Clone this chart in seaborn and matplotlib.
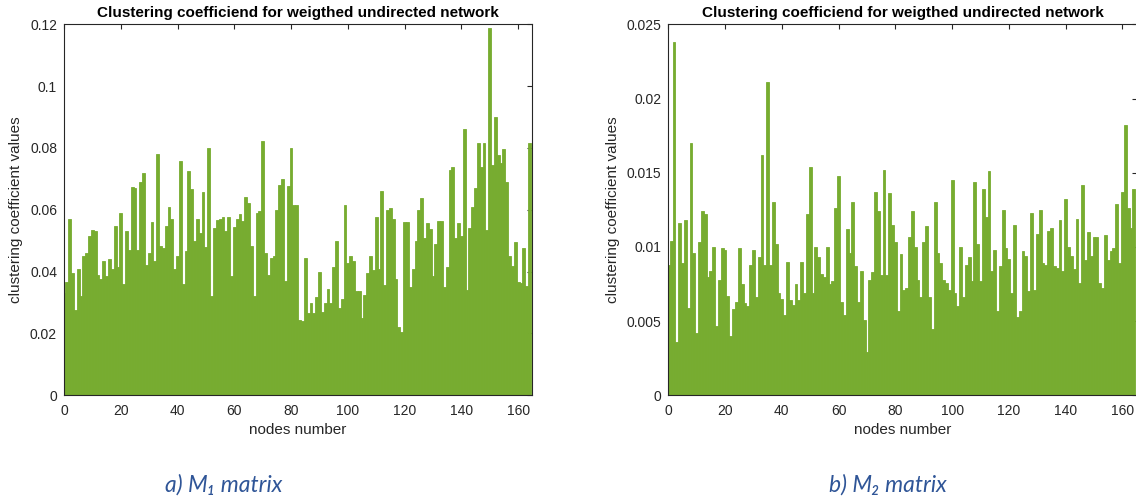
import numpy as np
import pandas as pd
import matplotlib
matplotlib.use("Agg")
import matplotlib.pyplot as plt
import seaborn as sns

# ---------------- data ----------------
m1_values = [
    0.033, 0.0366, 0.057, 0.0396, 0.0277, 0.041, 0.032, 0.045, 0.046, 0.0515,
    0.0536, 0.053, 0.039, 0.0376, 0.0434, 0.0387, 0.044, 0.041, 0.0547, 0.0415,
    0.059, 0.036, 0.053, 0.047, 0.0674, 0.067, 0.047, 0.069, 0.072, 0.042,
    0.046, 0.056, 0.0436, 0.078, 0.0484, 0.0477, 0.0547, 0.061, 0.057, 0.041,
    0.045, 0.0757, 0.036, 0.0466, 0.0725, 0.0668, 0.050, 0.057, 0.0525, 0.0657,
    0.048, 0.080, 0.032, 0.054, 0.0566, 0.057,
    0.0576, 0.0530, 0.0577, 0.0387, 0.0544, 0.0569, 0.0587, 0.0563, 0.0640, 0.0622,
    0.0484, 0.0320, 0.0590, 0.0595, 0.0822, 0.0460, 0.0390, 0.0444, 0.0452, 0.0599,
    0.0680, 0.0700, 0.0370, 0.0676, 0.0800, 0.0617, 0.0617, 0.0245, 0.0240, 0.0444,
    0.0266, 0.0300, 0.0266, 0.0317, 0.0398, 0.0270, 0.0297, 0.0344, 0.0297, 0.0414,
    0.0500, 0.0283, 0.0310, 0.0615, 0.0428, 0.0452, 0.0434, 0.0337, 0.0337, 0.0250,
    0.0326, 0.0396, 0.0452, 0.0405, 0.0577, 0.0407, 0.0660,
    0.0356, 0.0598, 0.0606, 0.0569, 0.0376, 0.022, 0.0205, 0.056, 0.056, 0.035,
    0.041, 0.050, 0.0598, 0.0639, 0.051, 0.0558, 0.0538, 0.0385, 0.049, 0.0565,
    0.0565, 0.035, 0.0414, 0.0728, 0.0739, 0.051, 0.0558, 0.0515, 0.0862, 0.0342,
    0.054, 0.061, 0.067, 0.0815, 0.074, 0.0817, 0.0536, 0.1189, 0.0744, 0.090,
    0.0777, 0.0752, 0.0797, 0.069, 0.0452, 0.0417, 0.0495, 0.0366, 0.0364, 0.0477,
    0.0353, 0.0817,
]

m2_values = [
    0.0088, 0.0104, 0.0238, 0.0036, 0.0116, 0.0089, 0.0118, 0.0059, 0.0170, 0.0096,
    0.0042, 0.0103, 0.0124, 0.0122, 0.0080, 0.0084, 0.0100, 0.0047, 0.0078, 0.0099,
    0.0098, 0.0067, 0.0040, 0.0058, 0.0063, 0.0099, 0.0075, 0.0062, 0.0060, 0.0088,
    0.0098, 0.0066, 0.0093, 0.0162, 0.0088, 0.0211, 0.0088, 0.0130, 0.0102, 0.0069,
    0.0065, 0.0054, 0.0090, 0.0064, 0.0061, 0.0075, 0.0064, 0.0090, 0.0069, 0.0122,
    0.0154, 0.0069, 0.0100, 0.0093, 0.0082, 0.0080, 0.0100,
    0.0075, 0.0077, 0.0126, 0.0148, 0.0063, 0.0054, 0.0112, 0.0096, 0.0130, 0.0087,
    0.0063, 0.0084, 0.0051, 0.0029, 0.0078, 0.0083, 0.0137, 0.0124, 0.0081, 0.0152,
    0.0081, 0.0136, 0.0115, 0.0103, 0.0057, 0.0095, 0.0071, 0.0072, 0.0107, 0.0124,
    0.0100, 0.0078, 0.0066, 0.0103, 0.0114, 0.0066, 0.0045, 0.0130, 0.0096, 0.0089,
    0.0078, 0.0076, 0.0071, 0.0145, 0.0069, 0.0060, 0.0100, 0.0066, 0.0088, 0.0093,
    0.0077, 0.0144, 0.0102, 0.0077, 0.0139,
    0.0120, 0.0151, 0.0084, 0.0098, 0.0057, 0.0087, 0.0125, 0.0099, 0.0092, 0.0069,
    0.0115, 0.0053, 0.0057, 0.0097, 0.0094, 0.0070, 0.0123, 0.0071, 0.0109, 0.0125,
    0.0089, 0.0088, 0.0111, 0.0113, 0.0087, 0.0086, 0.0118, 0.0084, 0.0132, 0.0100,
    0.0094, 0.0085, 0.0119, 0.0076, 0.0142, 0.0091, 0.0110, 0.0094, 0.0107, 0.0107,
    0.0076, 0.0072, 0.0108, 0.0091, 0.0097, 0.0099, 0.0129, 0.0089, 0.0137, 0.0182,
    0.0126, 0.0113, 0.0139,
]

x_ticks = [0, 20, 40, 60, 80, 100, 120, 140, 160]
m1_yticks = [0, 0.02, 0.04, 0.06, 0.08, 0.1, 0.12]
m1_yticklabels = ["0", "0.02", "0.04", "0.06", "0.08", "0.1", "0.12"]
m2_yticks = [0, 0.005, 0.01, 0.015, 0.02, 0.025]
m2_yticklabels = ["0", "0.005", "0.01", "0.015", "0.02", "0.025"]

title_text = "Clustering coefficiend for weigthed undirected network"
xlabel_text = "nodes number"
ylabel_text = "clustering coefficient values"
captions = ["a) M\u2081 matrix", "b) M\u2082 matrix"]

# ---------------- style ----------------
sns.set_theme(style="white")
plt.rcParams["font.family"] = ["Liberation Sans", "DejaVu Sans"]
axis_col = "#262626"
bar_col = "#77AC30"

fig = plt.figure(figsize=(11.36, 4.99), dpi=100)
W, H = 1136, 499
def pos(x0, x1, y_top, y_bot):
    return [x0 / W, 1 - y_bot / H, (x1 - x0) / W, (y_bot - y_top) / H]

ax1 = fig.add_axes(pos(64, 532.3, 24.3, 395.3))
ax2 = fig.add_axes(pos(668.3, 1136.6, 24.3, 395.3))

panels = [
    (ax1, m1_values, m1_yticks, m1_yticklabels, 0.12),
    (ax2, m2_values, m2_yticks, m2_yticklabels, 0.025),
]

for ax, vals, yt, ytl, ymax in panels:
    df = pd.DataFrame({"node": np.arange(len(vals)), "value": vals})
    sns.barplot(data=df, x="node", y="value", native_scale=True, ax=ax,
                color=bar_col, saturation=1, width=1.0,
                edgecolor=bar_col, linewidth=0.6, errorbar=None)
    ax.set_xlim(0, 165)
    ax.set_ylim(0, ymax)
    ax.set_xticks(x_ticks)
    ax.set_xticklabels([str(t) for t in x_ticks])
    ax.set_yticks(yt)
    ax.set_yticklabels(ytl)
    ax.tick_params(axis="both", direction="in", length=3.5, width=0.8,
                   color=axis_col, labelcolor=axis_col, labelsize=10,
                   top=True, right=True)
    ax.tick_params(axis="x", pad=6)
    ax.tick_params(axis="y", pad=5)
    for sp in ax.spines.values():
        sp.set_visible(True)
        sp.set_color(axis_col)
        sp.set_linewidth(0.8)
    ax.set_xlabel(xlabel_text, fontsize=11, color=axis_col, labelpad=4)
    ax.set_ylabel(ylabel_text, fontsize=11, color=axis_col, labelpad=5)
    ax.set_title(title_text, fontsize=11, fontweight="bold", color="black", pad=5)
    ax.grid(False)

fig.text(224 / W, 1 - 485 / H, captions[0], ha="center", va="center",
         fontsize=16.5, style="italic", color="#2F5597",
         family=["Lato", "DejaVu Sans"])
fig.text(888 / W, 1 - 485 / H, captions[1], ha="center", va="center",
         fontsize=16.5, style="italic", color="#2F5597",
         family=["Lato", "DejaVu Sans"])

fig.savefig("out.png", dpi=100)
